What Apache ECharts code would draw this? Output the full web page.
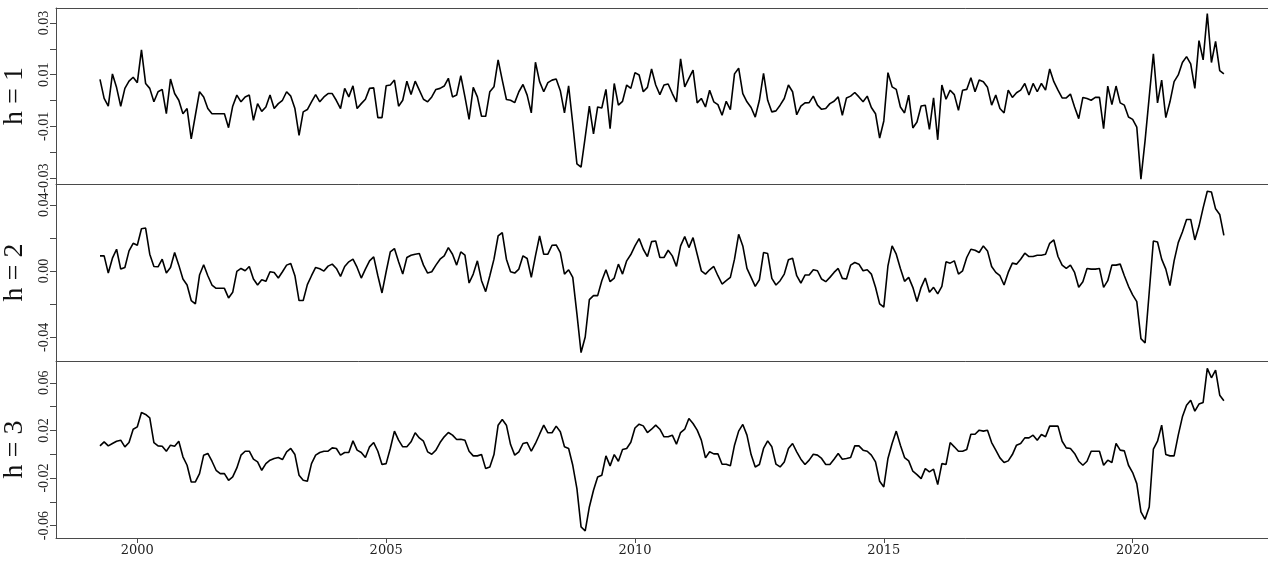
<!DOCTYPE html>
<html>
<head>
<meta charset="utf-8">
<script src="https://cdn.jsdelivr.net/npm/echarts@6/dist/echarts.min.js"></script>
<style>
  html, body { margin: 0; padding: 0; background: #ffffff; }
  #chart { width: 1268px; height: 563px; }
</style>
</head>
<body>
<div id="chart"></div>
<script>
// Monthly series, April 1999 through November 2021
const startYear = 1999;
const startMonth = 4;

// horizon h = 1
const h1 = [
  0.0082, 0.0008, -0.0022, 0.0103, 0.0050, -0.0022, 0.0047, 0.0075, 0.0090, 0.0069,
  0.0196, 0.0066, 0.0047, -0.0005, 0.0034, 0.0043, -0.0051, 0.0083, 0.0027, 0.0001,
  -0.0051, -0.0031, -0.0148, -0.0057, 0.0034, 0.0014, -0.0031, -0.0051, -0.0051, -0.0051,
  -0.0051, -0.0105, -0.0022, 0.0021, -0.0005, 0.0014, 0.0021, -0.0077, -0.0012, -0.0042,
  -0.0025, 0.0021, -0.0031, -0.0012, 0.0001, 0.0034, 0.0017, -0.0031, -0.0135, -0.0044,
  -0.0035, -0.0005, 0.0023, -0.0005, 0.0014, 0.0027, 0.0027, 0.0000, -0.0031, 0.0047,
  0.0014, 0.0057, -0.0031, -0.0012, 0.0005, 0.0047, 0.0049, -0.0066, -0.0066, 0.0057,
  0.0060, 0.0079, -0.0022, 0.0001, 0.0075, 0.0023, 0.0075, 0.0040, 0.0005, -0.0005,
  0.0014, 0.0043, 0.0047, 0.0056, 0.0086, 0.0014, 0.0021, 0.0096, 0.0014, -0.0073,
  0.0051, 0.0014, -0.0061, -0.0061, 0.0034, 0.0053, 0.0157, 0.0079, 0.0004, 0.0001,
  -0.0008, 0.0034, 0.0062, 0.0021, -0.0048, 0.0148, 0.0073, 0.0034, 0.0069, 0.0079,
  0.0083, 0.0038, -0.0048, 0.0057, -0.0090, -0.0245, -0.0258, -0.0142, -0.0022, -0.0129,
  -0.0025, -0.0029, 0.0043, -0.0109, 0.0066, -0.0018, -0.0003, 0.0060, 0.0047, 0.0108,
  0.0099, 0.0034, 0.0051, 0.0122, 0.0060, 0.0023, 0.0060, 0.0064, 0.0027, -0.0005,
  0.0161, 0.0053, 0.0086, 0.0118, -0.0009, 0.0008, -0.0025, 0.0040, -0.0005, -0.0016,
  -0.0057, -0.0003, -0.0035, 0.0103, 0.0125, 0.0027, -0.0005, -0.0027, -0.0064, 0.0001,
  0.0105, 0.0001, -0.0044, -0.0040, -0.0018, 0.0008, 0.0060, 0.0034, -0.0055, -0.0022,
  -0.0009, -0.0008, 0.0017, -0.0018, -0.0034, -0.0031, -0.0012, -0.0003, 0.0014, -0.0057,
  0.0010, 0.0017, 0.0031, 0.0014, -0.0005, 0.0017, -0.0027, -0.0051, -0.0145, -0.0079,
  0.0108, 0.0053, 0.0043, -0.0025, -0.0048, 0.0021, -0.0106, -0.0083, -0.0021, -0.0018,
  -0.0112, 0.0010, -0.0152, 0.0060, 0.0005, 0.0040, 0.0023, -0.0038, 0.0040, 0.0043,
  0.0088, 0.0034, 0.0079, 0.0073, 0.0051, -0.0018, 0.0021, -0.0031, -0.0048, 0.0040,
  0.0012, 0.0030, 0.0040, 0.0066, 0.0021, 0.0066, 0.0034, 0.0066, 0.0040, 0.0122,
  0.0073, 0.0040, 0.0010, 0.0010, 0.0025, -0.0025, -0.0070, 0.0012, 0.0008, 0.0001,
  0.0012, 0.0012, -0.0109, 0.0056, -0.0016, 0.0056, -0.0009, -0.0018, -0.0064, -0.0073,
  -0.0103, -0.0304, -0.0155, 0.0014, 0.0181, -0.0009, 0.0079, -0.0066, -0.0005, 0.0073,
  0.0099, 0.0147, 0.0170, 0.0142, 0.0047, 0.0232, 0.0157, 0.0336, 0.0147, 0.0229,
  0.0116, 0.0103
];

// horizon h = 2
const h2 = [
  0.0092, 0.0092, -0.0012, 0.0078, 0.0132, 0.0012, 0.0022, 0.0122, 0.0168, 0.0156,
  0.0256, 0.0260, 0.0102, 0.0028, 0.0026, 0.0072, -0.0012, 0.0022, 0.0112, 0.0036,
  -0.0048, -0.0084, -0.0178, -0.0198, -0.0024, 0.0038, -0.0028, -0.0084, -0.0104, -0.0104,
  -0.0104, -0.0162, -0.0128, -0.0002, 0.0016, 0.0002, 0.0028, -0.0048, -0.0084, -0.0052,
  -0.0062, -0.0004, -0.0008, -0.0042, -0.0004, 0.0036, 0.0046, -0.0028, -0.0178, -0.0178,
  -0.0082, -0.0028, 0.0022, 0.0014, 0.0000, 0.0030, 0.0042, 0.0016, -0.0032, 0.0028,
  0.0056, 0.0072, 0.0022, -0.0042, 0.0012, 0.0062, 0.0086, -0.0028, -0.0132, -0.0004,
  0.0116, 0.0136, 0.0056, -0.0018, 0.0082, 0.0096, 0.0102, 0.0106, 0.0036, -0.0012,
  -0.0004, 0.0036, 0.0072, 0.0092, 0.0142, 0.0102, 0.0036, 0.0116, 0.0096, -0.0072,
  -0.0018, 0.0062, -0.0058, -0.0124, -0.0028, 0.0072, 0.0212, 0.0232, 0.0072, -0.0004,
  -0.0012, 0.0012, 0.0092, 0.0076, -0.0038, 0.0092, 0.0212, 0.0102, 0.0102, 0.0156,
  0.0158, 0.0112, -0.0018, 0.0008, -0.0038, -0.0258, -0.0492, -0.0398, -0.0172, -0.0148,
  -0.0148, -0.0058, 0.0008, -0.0064, -0.0042, 0.0042, -0.0018, 0.0062, 0.0100, 0.0152,
  0.0196, 0.0132, 0.0088, 0.0178, 0.0182, 0.0082, 0.0082, 0.0126, 0.0092, 0.0028,
  0.0152, 0.0208, 0.0142, 0.0202, 0.0102, 0.0002, -0.0018, 0.0008, 0.0028, -0.0028,
  -0.0078, -0.0058, -0.0038, 0.0072, 0.0222, 0.0152, 0.0016, -0.0038, -0.0092, -0.0052,
  0.0112, 0.0106, -0.0044, -0.0084, -0.0058, -0.0018, 0.0068, 0.0078, -0.0028, -0.0072,
  -0.0024, -0.0024, 0.0008, 0.0002, -0.0048, -0.0064, -0.0038, -0.0008, 0.0016, -0.0044,
  -0.0048, 0.0036, 0.0052, 0.0042, 0.0002, 0.0008, -0.0018, -0.0098, -0.0198, -0.0218,
  0.0032, 0.0152, 0.0102, 0.0016, -0.0062, -0.0038, -0.0098, -0.0184, -0.0098, -0.0042,
  -0.0128, -0.0098, -0.0138, -0.0092, 0.0056, 0.0048, 0.0062, -0.0018, 0.0002, 0.0082,
  0.0132, 0.0126, 0.0112, 0.0152, 0.0122, 0.0028, -0.0008, -0.0028, -0.0084, -0.0008,
  0.0048, 0.0042, 0.0072, 0.0108, 0.0088, 0.0088, 0.0096, 0.0096, 0.0102, 0.0168,
  0.0188, 0.0088, 0.0036, 0.0016, 0.0036, -0.0008, -0.0098, -0.0064, 0.0016, 0.0012,
  0.0012, 0.0016, -0.0098, -0.0058, 0.0036, 0.0036, 0.0042, -0.0028, -0.0092, -0.0144,
  -0.0184, -0.0408, -0.0434, -0.0128, 0.0182, 0.0176, 0.0072, 0.0012, -0.0088, 0.0062,
  0.0172, 0.0236, 0.0312, 0.0312, 0.0188, 0.0272, 0.0382, 0.0482, 0.0478, 0.0376,
  0.0342, 0.0216
];

// horizon h = 3
const h3 = [
  0.0070, 0.0104, 0.0070, 0.0090, 0.0109, 0.0118, 0.0062, 0.0098, 0.0210, 0.0230,
  0.0351, 0.0334, 0.0306, 0.0098, 0.0070, 0.0067, 0.0025, 0.0076, 0.0067, 0.0109,
  -0.0022, -0.0093, -0.0233, -0.0233, -0.0163, -0.0008, 0.0006, -0.0059, -0.0135, -0.0163,
  -0.0163, -0.0219, -0.0191, -0.0115, -0.0008, 0.0025, 0.0025, -0.0042, -0.0065, -0.0135,
  -0.0079, -0.0050, -0.0036, -0.0028, -0.0045, 0.0020, 0.0048, -0.0003, -0.0177, -0.0219,
  -0.0227, -0.0079, -0.0008, 0.0014, 0.0025, 0.0025, 0.0053, 0.0048, -0.0008, 0.0014,
  0.0014, 0.0112, 0.0034, 0.0014, -0.0028, 0.0062, 0.0098, 0.0025, -0.0087, -0.0079,
  0.0048, 0.0194, 0.0118, 0.0062, 0.0062, 0.0104, 0.0180, 0.0137, 0.0109, 0.0020,
  0.0000, 0.0034, 0.0098, 0.0146, 0.0182, 0.0160, 0.0123, 0.0126, 0.0118, 0.0025,
  -0.0014, -0.0014, -0.0003, -0.0121, -0.0107, -0.0003, 0.0244, 0.0292, 0.0244, 0.0081,
  -0.0008, 0.0020, 0.0090, 0.0098, 0.0025, 0.0090, 0.0168, 0.0244, 0.0180, 0.0180,
  0.0236, 0.0188, 0.0062, 0.0048, -0.0093, -0.0289, -0.0611, -0.0645, -0.0443, -0.0303,
  -0.0191, -0.0177, -0.0014, -0.0098, -0.0003, -0.0059, 0.0039, 0.0048, 0.0100, 0.0220,
  0.0252, 0.0238, 0.0182, 0.0210, 0.0244, 0.0210, 0.0146, 0.0146, 0.0160, 0.0084,
  0.0182, 0.0210, 0.0300, 0.0258, 0.0202, 0.0118, -0.0031, 0.0020, 0.0003, 0.0003,
  -0.0084, -0.0084, -0.0098, 0.0076, 0.0194, 0.0250, 0.0160, -0.0003, -0.0107, -0.0087,
  0.0048, 0.0112, 0.0062, -0.0084, -0.0107, -0.0065, 0.0048, 0.0090, 0.0020, -0.0042,
  -0.0087, -0.0050, 0.0000, -0.0008, -0.0036, -0.0087, -0.0087, -0.0042, 0.0006, -0.0042,
  -0.0036, -0.0028, 0.0070, 0.0070, 0.0034, 0.0025, -0.0008, -0.0065, -0.0227, -0.0275,
  -0.0036, 0.0090, 0.0194, 0.0076, -0.0028, -0.0056, -0.0143, -0.0171, -0.0205, -0.0121,
  -0.0149, -0.0126, -0.0255, -0.0079, -0.0087, 0.0098, 0.0062, 0.0025, 0.0025, 0.0039,
  0.0168, 0.0168, 0.0202, 0.0194, 0.0202, 0.0098, 0.0034, -0.0031, -0.0070, -0.0056,
  -0.0003, 0.0076, 0.0090, 0.0137, 0.0137, 0.0160, 0.0118, 0.0165, 0.0146, 0.0236,
  0.0236, 0.0236, 0.0109, 0.0053, 0.0048, 0.0006, -0.0059, -0.0093, -0.0059, 0.0025,
  0.0025, 0.0025, -0.0093, -0.0050, -0.0070, 0.0090, 0.0034, 0.0028, -0.0093, -0.0154,
  -0.0247, -0.0485, -0.0547, -0.0443, 0.0042, 0.0109, 0.0244, -0.0003, -0.0014, -0.0014,
  0.0160, 0.0314, 0.0412, 0.0454, 0.0362, 0.0421, 0.0435, 0.0721, 0.0642, 0.0707,
  0.0496, 0.0449
];

const panelNames = ['h = 1', 'h = 2', 'h = 3'];
const yearTicks = [2000, 2005, 2010, 2015, 2020];
const yTickValues = [
  [-0.03, -0.02, -0.01, 0, 0.01, 0.02, 0.03],
  [-0.04, -0.02, 0, 0.02, 0.04],
  [-0.06, -0.04, -0.02, 0, 0.02, 0.04, 0.06]
];
const yLabelValues = [
  [-0.03, -0.01, 0.01, 0.03],
  [-0.04, 0, 0.04],
  [-0.06, -0.02, 0.02, 0.06]
];
const yRanges = [
  [-0.0323, 0.0358],
  [-0.0543, 0.0526],
  [-0.0704, 0.0783]
];
const xRange = [1998.366, 2022.72];

const seriesValues = [h1, h2, h3];
const toPairs = vals => vals.map((v, i) => [startYear + (startMonth - 1) / 12 + i / 12, v]);

const frameColor = '#4a4a4a';
const tickFont = 'Liberation Serif';

const grids = [
  { left: 56, right: 0, top: 8, height: 176, outerBoundsMode: 'none', containLabel: false },
  { left: 56, right: 0, top: 184, height: 177, outerBoundsMode: 'none', containLabel: false },
  { left: 56, right: 0, top: 361, height: 177, outerBoundsMode: 'none', containLabel: false }
];

const xAxes = grids.map((g, k) => ({
  type: 'value',
  gridIndex: k,
  position: 'bottom',
  min: xRange[0],
  max: xRange[1],
  splitLine: { show: false },
  axisLine: { show: true, onZero: false, lineStyle: { color: frameColor, width: 1 } },
  axisTick: k === 2
    ? { show: true, customValues: yearTicks, length: 5, lineStyle: { color: frameColor } }
    : { show: false },
  axisLabel: k === 2
    ? { show: true, customValues: yearTicks, margin: 6, fontFamily: 'DejaVu Serif', fontSize: 13,
        color: '#222', formatter: v => String(Math.round(v)) }
    : { show: false }
}));
// top frame line of the first panel
xAxes.push({
  type: 'value',
  gridIndex: 0,
  position: 'top',
  min: xRange[0],
  max: xRange[1],
  splitLine: { show: false },
  axisLine: { show: true, onZero: false, lineStyle: { color: frameColor, width: 1 } },
  axisTick: { show: false },
  axisLabel: { show: false }
});

const yAxes = grids.map((g, k) => ({
  type: 'value',
  gridIndex: k,
  min: yRanges[k][0],
  max: yRanges[k][1],
  name: panelNames[k],
  nameLocation: 'middle',
  nameRotate: 90,
  nameGap: 24,
  nameTextStyle: { fontFamily: 'Liberation Serif', fontSize: 28, color: '#111' },
  splitLine: { show: false },
  axisLine: { show: true, onZero: false, lineStyle: { color: frameColor, width: 1 } },
  axisTick: { show: true, customValues: yTickValues[k], length: 6, lineStyle: { color: frameColor } },
  axisLabel: {
    show: true,
    customValues: yLabelValues[k],
    rotate: 90,
    margin: 5,
    fontFamily: tickFont,
    fontSize: 14,
    color: '#222',
    formatter: v => v.toFixed(2)
  }
}));

const series = seriesValues.map((vals, k) => ({
  type: 'line',
  xAxisIndex: k,
  yAxisIndex: k,
  data: toPairs(vals),
  showSymbol: false,
  symbol: 'none',
  lineStyle: { color: '#000', width: 1.6 },
  z: 3
}));

const chart = echarts.init(document.getElementById('chart'), null, { renderer: 'canvas' });
chart.setOption({
  animation: false,
  backgroundColor: '#ffffff',
  grid: grids,
  xAxis: xAxes,
  yAxis: yAxes,
  series: series
});
</script>
</body>
</html>
